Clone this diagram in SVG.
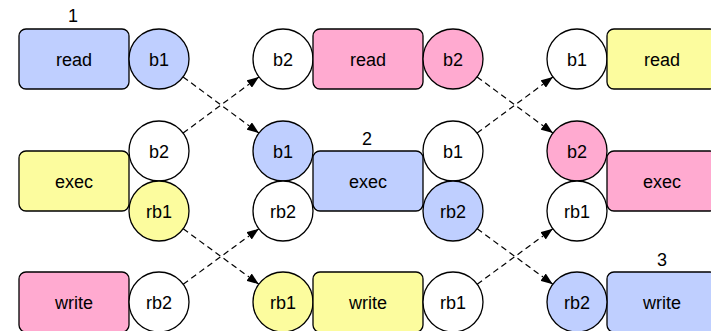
<svg xmlns="http://www.w3.org/2000/svg" width="711" height="331" viewBox="0 0 711 331">
<style>
.box{stroke:#000;stroke-width:1.3}
.c{stroke:#000;stroke-width:1.3}
.blue{fill:#bfcfff}
.yellow{fill:#fcfc9e}
.pink{fill:#ffaad0}
.white{fill:#fff}
text{font-family:"Liberation Sans",Arial,sans-serif;font-size:18px;fill:#000;text-anchor:middle}
.conn line{stroke:#000;stroke-width:1.2;stroke-dasharray:6 4;fill:none}
</style>
<defs>
<marker id="arr" markerUnits="userSpaceOnUse" markerWidth="12" markerHeight="9" refX="12" refY="4.5" orient="auto">
<path d="M0,0 L12,4.5 L0,9 z" fill="#000"/>
</marker>
</defs>
<rect width="711" height="331" fill="#fff"/>
<g class="conn" id="connectors">
<line x1="183.1" y1="76.9" x2="258.9" y2="133.1" marker-end="url(#arr)"/>
<line x1="183.1" y1="133.1" x2="258.9" y2="76.9" marker-end="url(#arr)"/>
<line x1="183.2" y1="228.8" x2="258.8" y2="284.2" marker-end="url(#arr)"/>
<line x1="183.2" y1="284.2" x2="258.8" y2="228.8" marker-end="url(#arr)"/>
<line x1="477.1" y1="76.9" x2="552.9" y2="133.1" marker-end="url(#arr)"/>
<line x1="477.1" y1="133.1" x2="552.9" y2="76.9" marker-end="url(#arr)"/>
<line x1="477.2" y1="228.8" x2="552.8" y2="284.2" marker-end="url(#arr)"/>
<line x1="477.2" y1="284.2" x2="552.8" y2="228.8" marker-end="url(#arr)"/>
</g>
<!-- column 1 -->
<g id="c1-read"><rect class="box blue" x="19" y="29" width="110" height="60" rx="7"/><text x="74" y="65.5">read</text><text x="73" y="22">1</text></g>
<g id="c1-b1"><circle class="c blue" cx="159" cy="59" r="30"/><text x="159" y="65.5">b1</text></g>
<g id="c1-exec"><rect class="box yellow" x="19" y="151" width="110" height="60" rx="7"/><text x="74" y="187.5">exec</text></g>
<g id="c1-b2"><circle class="c white" cx="159" cy="151" r="30"/><text x="159" y="157.5">b2</text></g>
<g id="c1-rb1"><circle class="c yellow" cx="159" cy="211" r="30"/><text x="159" y="217.5">rb1</text></g>
<g id="c1-write"><rect class="box pink" x="19" y="272" width="110" height="60" rx="7"/><text x="74" y="308.5">write</text></g>
<g id="c1-rb2"><circle class="c white" cx="159" cy="302" r="30"/><text x="159" y="308.5">rb2</text></g>
<!-- column 2 -->
<g id="c2-b2in"><circle class="c white" cx="283" cy="59" r="30"/><text x="283" y="65.5">b2</text></g>
<g id="c2-read"><rect class="box pink" x="313" y="29" width="110" height="60" rx="7"/><text x="368" y="65.5">read</text></g>
<g id="c2-b2out"><circle class="c pink" cx="453" cy="59" r="30"/><text x="453" y="65.5">b2</text></g>
<g id="c2-exec"><rect class="box blue" x="313" y="151" width="110" height="60" rx="7"/><text x="368" y="187.5">exec</text><text x="367" y="145">2</text></g>
<g id="c2-b1in"><circle class="c blue" cx="283" cy="151" r="30"/><text x="283" y="157.5">b1</text></g>
<g id="c2-rb2in"><circle class="c white" cx="283" cy="211" r="30"/><text x="283" y="217.5">rb2</text></g>
<g id="c2-b1out"><circle class="c white" cx="453" cy="151" r="30"/><text x="453" y="157.5">b1</text></g>
<g id="c2-rb2out"><circle class="c blue" cx="453" cy="211" r="30"/><text x="453" y="217.5">rb2</text></g>
<g id="c2-rb1in"><circle class="c yellow" cx="283" cy="302" r="30"/><text x="283" y="308.5">rb1</text></g>
<g id="c2-write"><rect class="box yellow" x="313" y="272" width="110" height="60" rx="7"/><text x="368" y="308.5">write</text></g>
<g id="c2-rb1out"><circle class="c white" cx="453" cy="302" r="30"/><text x="453" y="308.5">rb1</text></g>
<!-- column 3 -->
<g id="c3-b1"><circle class="c white" cx="577" cy="59" r="30"/><text x="577" y="65.5">b1</text></g>
<g id="c3-read"><rect class="box yellow" x="607" y="29" width="110" height="60" rx="7"/><text x="662" y="65.5">read</text></g>
<g id="c3-exec"><rect class="box pink" x="607" y="151" width="110" height="60" rx="7"/><text x="662" y="187.5">exec</text></g>
<g id="c3-b2"><circle class="c pink" cx="577" cy="151" r="30"/><text x="577" y="157.5">b2</text></g>
<g id="c3-rb1"><circle class="c white" cx="577" cy="211" r="30"/><text x="577" y="217.5">rb1</text></g>
<g id="c3-write"><rect class="box blue" x="607" y="272" width="110" height="60" rx="7"/><text x="662" y="308.5">write</text><text x="662" y="266">3</text></g>
<g id="c3-rb2"><circle class="c blue" cx="577" cy="302" r="30"/><text x="577" y="308.5">rb2</text></g>
</svg>
